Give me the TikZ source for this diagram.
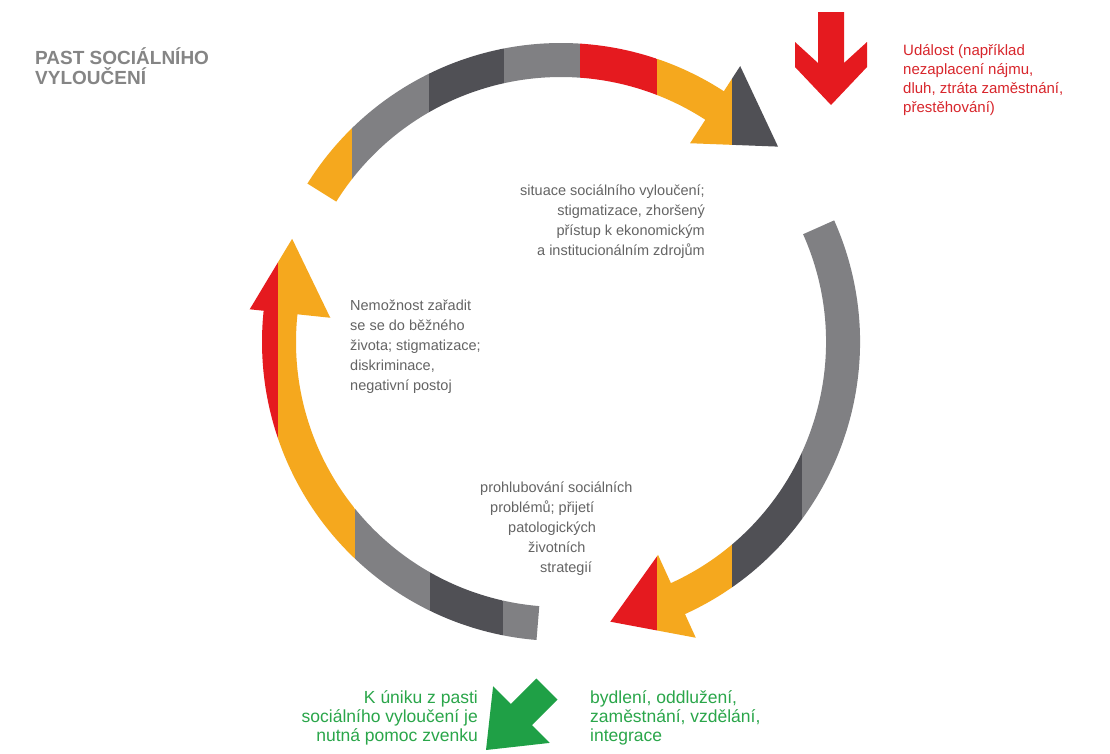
\documentclass[tikz,border=0pt]{standalone}
\usepackage{fontspec}
\setmainfont{Liberation Sans}
\definecolor{cOrange}{HTML}{F5A81E}
\definecolor{cRed}{HTML}{E51A1F}
\definecolor{cDark}{HTML}{505055}
\definecolor{cGray}{HTML}{808083}
\definecolor{cGreen}{HTML}{1FA046}
\definecolor{cText}{HTML}{646464}
\definecolor{cTitle}{HTML}{858585}
\definecolor{cRedText}{HTML}{D8262C}
\definecolor{cGreenText}{HTML}{2AA64A}
\begin{document}
\begin{tikzpicture}[x=1pt,y=1pt,
  body/.style={inner sep=0pt, text=cText, font=\fontsize{14.5}{20}\selectfont},
  redtxt/.style={inner sep=0pt, text=cRedText, font=\fontsize{15}{19}\selectfont, align=left},
  greentxt/.style={inner sep=0pt, text=cGreenText, font=\fontsize{17.5}{19}\selectfont},
  titletxt/.style={inner sep=0pt, text=cTitle, font=\fontsize{19}{20}\selectfont\bfseries, align=left}]
\useasboundingbox (0,0) rectangle (1110,-753);
\fill[white] (0,0) rectangle (1110,-753);
% ring
\begin{scope}[shift={(561,-342)}]
  % top arrow
  \def\pathA{(148:299) arc[start angle=148,end angle=57,radius=299] -- (57:329) -- (42:292) -- (57:237) -- (57:265) arc[start angle=57,end angle=148,radius=265] -- cycle}
  \begin{scope}
    \clip \pathA;
    \fill[cOrange] (-400,-400) rectangle (-209,400);
    \fill[cGray] (-209,-400) rectangle (-132,400);
    \fill[cDark] (-132,-400) rectangle (-57,400);
    \fill[cGray] (-57,-400) rectangle (19,400);
    \fill[cRed] (19,-400) rectangle (96,400);
    \fill[cOrange] (96,-400) rectangle (171,400);
    \fill[cDark] (171,-400) rectangle (400,400);
  \end{scope}
  % right arrow
  \def\pathB{(24:299) arc[start angle=24,end angle=-65.5,radius=299] -- (-65.5:325) -- (-80:284) -- (-65.5:234) -- (-65.5:265) arc[start angle=-65.5,end angle=24,radius=265] -- cycle}
  \begin{scope}
    \clip \pathB;
    \fill[cRed] (-400,-400) rectangle (96,400);
    \fill[cOrange] (96,-400) rectangle (171,400);
    \fill[cDark] (171,-400) rectangle (241,400);
    \fill[cGray] (241,-400) rectangle (400,400);
  \end{scope}
  % left arrow
  \def\pathC{(265.3:299) arc[start angle=265.3,end angle=174,radius=299] -- (174:313) -- (159:288) -- (174:232) -- (174:265) arc[start angle=174,end angle=265.3,radius=265] -- cycle}
  \begin{scope}
    \clip \pathC;
    \fill[cRed] (-400,-400) rectangle (-283,400);
    \fill[cOrange] (-283,-400) rectangle (-206,400);
    \fill[cGray] (-206,-400) rectangle (-131,400);
    \fill[cDark] (-131,-400) rectangle (-58,400);
    \fill[cGray] (-58,-400) rectangle (400,400);
  \end{scope}
\end{scope}
% red event arrow
\fill[cRed] (818,-12) -- (844,-12) -- (844,-63) -- (867,-42) -- (867,-67) -- (831,-105) -- (795,-67) -- (795,-42) -- (818,-63) -- cycle;
% green exit arrow
\fill[cGreen] (486,-750) -- (493.1,-686.3) -- (510.8,-704) -- (536.3,-678.5) -- (557.5,-699.7) -- (532,-725.2) -- (549.7,-742.9) -- cycle;
% texts (anchor = baseline of the last line)
\node[titletxt, anchor=base west] (title) at (35,-84) {PAST SOCIÁLNÍHO\\VYLOUČENÍ};
\node[redtxt, anchor=base west] (event) at (903,-112) {Událost (například\\nezaplacení nájmu,\\dluh, ztráta zaměstnání,\\přestěhování)};
\node[body, align=right, anchor=base east] (situace) at (705,-255) {situace sociálního vyloučení;\\stigmatizace, zhoršený\\přístup k ekonomickým\\a institucionálním zdrojům};
\node[body, align=left, anchor=base west] (nemoznost) at (350,-390) {Nemožnost zařadit\\se se do běžného\\života; stigmatizace;\\diskriminace,\\negativní postoj};
\node[body, align=left, anchor=base west] (prohlub) at (480,-572) {prohlubování sociálních\\\hspace*{10pt}problémů; přijetí\\\hspace*{28pt}patologických\\\hspace*{48pt}životních\\\hspace*{60pt}strategií};
\node[greentxt, align=right, anchor=base east] (unik) at (478,-741) {K úniku z pasti\\sociálního vyloučení je\\nutná pomoc zvenku};
\node[greentxt, align=left, anchor=base west] (pomoc) at (590,-741) {bydlení, oddlužení,\\zaměstnání, vzdělání,\\integrace};
\end{tikzpicture}
\end{document}
